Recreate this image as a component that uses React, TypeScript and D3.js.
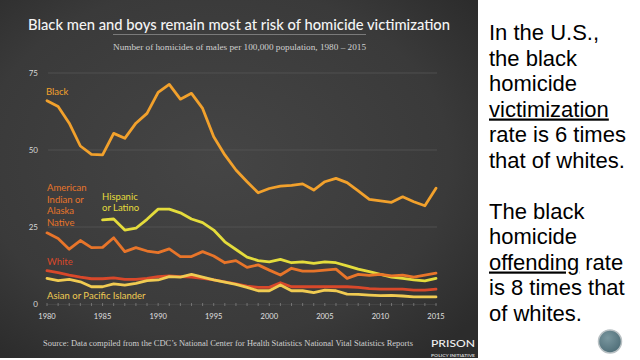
import React from "react";
import * as d3 from "d3";

const years = [1980,1981,1982,1983,1984,1985,1986,1987,1988,1989,1990,1991,1992,1993,1994,1995,1996,1997,1998,1999,2000,2001,2002,2003,2004,2005,2006,2007,2008,2009,2010,2011,2012,2013,2014,2015];
const tickYears = [1980,1985,1990,1995,2000,2005,2010,2015];
const yTicks = [0,25,50,75];

const black = [66.0,64.1,58.7,51.3,48.6,48.4,55.4,53.8,58.7,61.9,68.7,71.3,66.5,68.4,63.5,54.3,48.4,43.5,39.7,36.1,37.5,38.3,38.5,39.0,37.0,39.7,40.8,39.4,36.7,34.0,33.5,33.0,34.8,33.2,31.9,37.6];
const hispanic = [null,null,null,null,null,27.3,27.6,24.0,24.6,27.5,30.8,30.8,29.6,27.6,26.4,24.0,20.2,17.7,15.2,14.1,13.7,14.5,13.4,13.7,13.2,13.7,13.4,12.4,11.3,10.5,9.6,8.7,8.3,7.8,7.5,8.3];
const amIndian = [23.1,21.3,17.8,20.6,18.3,18.4,21.5,17.0,18.3,17.2,16.7,17.9,15.4,15.4,17.0,15.6,13.4,14.1,11.9,12.7,11.0,9.4,11.6,10.7,10.7,11.0,11.3,8.3,9.6,9.3,9.6,9.1,9.4,8.7,9.4,10.0];
const white = [10.8,10.2,9.4,8.7,8.2,8.2,8.5,8.0,8.0,8.3,8.9,9.1,8.9,8.7,8.3,7.8,7.2,6.5,5.8,5.4,5.4,6.9,5.6,5.6,5.6,5.6,5.6,5.6,5.4,5.0,4.8,4.8,4.8,4.5,4.5,4.8];
const asian = [8.3,7.6,8.0,7.2,5.6,5.6,6.5,6.1,6.7,7.6,7.8,8.9,8.7,9.6,8.7,7.8,7.1,6.4,5.4,4.3,4.3,6.2,4.3,4.3,3.7,4.5,4.3,3.2,3.1,2.9,2.7,2.8,2.6,2.3,2.3,2.3];

const seriesNames = ["Black", "Hispanic or Latino", "American Indian or Alaska Native", "White", "Asian or Pacific Islander"];
const seriesValues = [black, hispanic, amIndian, white, asian];
const seriesColors = ["#f2a12c", "#e4dc3c", "#e8752a", "#d9482a", "#f0cb52"];
const drawOrder = [0, 1, 2, 3, 4];

const title = "Black men and boys remain most at risk of homicide victimization";
const subtitle = "Number of homicides of males per 100,000 population, 1980 \u2013 2015";
const source = "Source: Data compiled from the CDC\u2019s National Center for Health Statistics National Vital Statistics Reports";

const sideLines: { parts: { t: string; u?: boolean }[] }[] = [
  { parts: [{ t: "In the U.S.," }] },
  { parts: [{ t: "the black" }] },
  { parts: [{ t: "homicide" }] },
  { parts: [{ t: "victimization", u: true }] },
  { parts: [{ t: "rate is 6 times" }] },
  { parts: [{ t: "that of whites." }] },
  { parts: [] },
  { parts: [{ t: "The black" }] },
  { parts: [{ t: "homicide" }] },
  { parts: [{ t: "offending", u: true }, { t: " rate" }] },
  { parts: [{ t: "is 8 times that" }] },
  { parts: [{ t: "of whites." }] },
];

export default function App() {
  const x = d3.scaleLinear().domain([1980, 2015]).range([47, 436]);
  const y = d3.scaleLinear().domain([0, 75]).range([304, 73]);
  const line = d3
    .line<number | null>()
    .defined((d) => d !== null)
    .x((_, i) => x(years[i]))
    .y((d) => y(d as number));

  const futura = "Lato, 'Open Sans', sans-serif";
  const serif = "'Liberation Serif', 'DejaVu Serif', serif";

  return (
    <svg
      width={640}
      height={360}
      style={{ position: "fixed", left: 0, top: 0, background: "#fff" }}
    >
      <defs>
        <radialGradient id="bg" cx="0.45" cy="0.45" r="0.7">
          <stop offset="0" stopColor="#454545" />
          <stop offset="0.7" stopColor="#3a3a3a" />
          <stop offset="1" stopColor="#2c2c2c" />
        </radialGradient>
        <radialGradient id="btn" cx="0.4" cy="0.35" r="0.7">
          <stop offset="0" stopColor="#7a979f" />
          <stop offset="1" stopColor="#4d6c76" />
        </radialGradient>
      </defs>
      <rect x={0} y={0} width={640} height={360} fill="#fff" />
      <rect x={0} y={0} width={478} height={358} fill="url(#bg)" />

      {/* title */}
      <text
        x={239}
        y={30}
        textAnchor="middle"
        fill="#f4f4f4"
        fontFamily={futura}
        fontSize={16}
        fontWeight={500}
        textLength={422}
        lengthAdjust="spacingAndGlyphs"
      >
        {title}
      </text>
      <line x1={113} x2={366} y1={34.5} y2={34.5} stroke="#8a8a8a" strokeWidth={0.8} />
      <text
        x={239.5}
        y={50}
        textAnchor="middle"
        fill="#d0d0d0"
        fontFamily={serif}
        fontSize={9}
        textLength={253}
        lengthAdjust="spacingAndGlyphs"
      >
        {subtitle}
      </text>

      {/* gridlines */}
      {yTicks.filter((t) => t > 0).map((t) => (
        <line key={t} x1={48} x2={437} y1={y(t)} y2={y(t)} stroke="#555" strokeWidth={0.8} />
      ))}
      {yTicks.map((t) => (
        <text
          key={"yl" + t}
          x={38}
          y={y(t) + 3}
          textAnchor="end"
          fill="#d8d8d8"
          fontFamily={futura}
          fontSize={8}
        >
          {t}
        </text>
      ))}

      {/* x axis ticks */}
      <line x1={47} x2={437} y1={304.5} y2={304.5} stroke="#4e4e4e" strokeWidth={0.6} />
      {years.map((yr) => (
        <line key={"t" + yr} x1={x(yr)} x2={x(yr)} y1={303} y2={306} stroke="#8a8a8a" strokeWidth={0.7} />
      ))}
      {tickYears.map((yr) => (
        <text
          key={"xl" + yr}
          x={x(yr)}
          y={319}
          textAnchor="middle"
          fill="#e0e0e0"
          fontFamily={futura}
          fontSize={7.5}
        >
          {yr}
        </text>
      ))}

      {/* lines */}
      {drawOrder.map((i) => (
        <path
          key={seriesNames[i]}
          d={line(seriesValues[i]) || ""}
          fill="none"
          stroke={seriesColors[i]}
          strokeWidth={2.8}
          strokeLinejoin="round"
          strokeLinecap="round"
        />
      ))}

      {/* series labels */}
      <g fontFamily={futura} fontSize={9.5}>
        <text x={46} y={95} fill={seriesColors[0]}>Black</text>
        <g fill={seriesColors[2]}>
          <text x={47} y={191}>American</text>
          <text x={47} y={202.5}>Indian or</text>
          <text x={47} y={214}>Alaska</text>
          <text x={47} y={225.5}>Native</text>
        </g>
        <g fill={seriesColors[1]}>
          <text x={102} y={199.5}>Hispanic</text>
          <text x={102} y={211}>or Latino</text>
        </g>
        <text x={47} y={264.5} fill={seriesColors[3]}>White</text>
        <text x={47} y={298.5} fill={seriesColors[4]}>Asian or Pacific Islander</text>
      </g>

      {/* source */}
      <text
        x={43}
        y={346}
        fill="#d0d0d0"
        fontFamily={serif}
        fontSize={7.8}
        textLength={370}
        lengthAdjust="spacingAndGlyphs"
      >
        {source}
      </text>
      <text
        x={431}
        y={347}
        fill="#f0f0f0"
        fontFamily={futura}
        fontSize={10}
        fontWeight={500}
        textLength={44}
        lengthAdjust="spacingAndGlyphs"
      >
        PRISON
      </text>
      <text
        x={431}
        y={356.5}
        fill="#cfcfcf"
        fontFamily={futura}
        fontSize={3.4}
        fontWeight={700}
        textLength={44}
        lengthAdjust="spacingAndGlyphs"
      >
        POLICY INITIATIVE
      </text>

      {/* side text */}
      <g fontFamily="'Liberation Sans', Arial, sans-serif" fontSize={22} fill="#000">
        {sideLines.map((ln, i) => (
          <text key={i} x={489} y={40 + i * 25.5}>
            {ln.parts.map((p, j) => (
              <tspan key={j} textDecoration={p.u ? "underline" : undefined}>
                {p.t}
              </tspan>
            ))}
          </text>
        ))}
      </g>

      {/* nav button */}
      <circle cx={610} cy={341.5} r={11.5} fill="url(#btn)" stroke="#b8c0c3" strokeWidth={1.5} />
    </svg>
  );
}
